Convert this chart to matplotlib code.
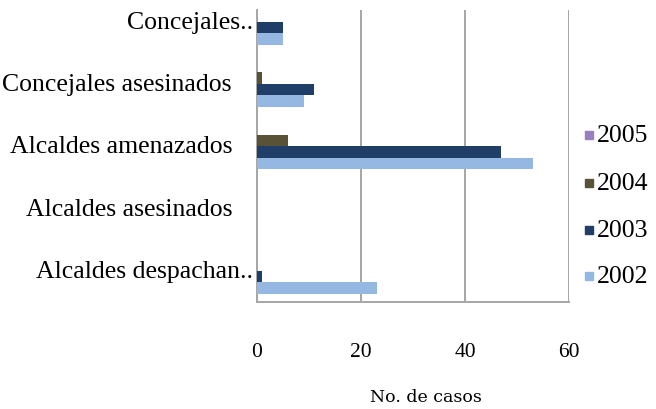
import matplotlib
matplotlib.use("Agg")
import matplotlib.pyplot as plt
from matplotlib.patches import Rectangle
import numpy as np

# Categories listed bottom to top
categories = ["Alcaldes despachan..", "Alcaldes asesinados", "Alcaldes amenazados",
              "Concejales asesinados", "Concejales.."]
years = ["2005", "2004", "2003", "2002"]
v2005 = [0, 0, 0, 0, 0]
v2004 = [0, 0, 6, 1, 0]
v2003 = [1, 0, 47, 11, 5]
v2002 = [23, 0, 53, 9, 5]
series = [v2005, v2004, v2003, v2002]
colors = ["#9A7FC0", "#5A5236", "#1F3F69", "#95B8E3"]
xticks = [0, 20, 40, 60]

W, H = 656, 410
fig = plt.figure(figsize=(W / 100, H / 100), dpi=100)
ax = fig.add_axes([257 / W, 1 - 303 / H, (569 - 257) / W, (303 - 11) / H])

serif = "Liberation Serif"
y = np.arange(len(categories))
h = 0.185
offsets = [1.5 * h, 0.5 * h, -0.5 * h, -1.5 * h]
for vals, col, off in zip(series, colors, offsets):
    ax.barh(y + off, vals, height=h, color=col, linewidth=0, zorder=3)

ax.set_xlim(0, 60)
ax.set_ylim(-0.5, -0.5 + (303 - 11) / 62.3)
ax.set_xticks(xticks)
ax.set_xticklabels([str(t) for t in xticks], fontfamily=serif, fontsize=15.5)
ax.tick_params(axis="x", length=0, pad=29)
ax.set_yticks([])
ax.grid(axis="x", color="#a6a6a6", linewidth=1.4, zorder=0)
for s in ["top", "right"]:
    ax.spines[s].set_visible(False)
for s in ["left", "bottom"]:
    ax.spines[s].set_color("#a6a6a6")
    ax.spines[s].set_linewidth(1.4)

# Category labels, right-aligned beside the axis
label_right = [253, 233, 232, 232, 253]
for yi, lab, xr in zip(y, categories, label_right):
    ax.text((xr - 257) / (569 - 257), yi, lab, transform=ax.get_yaxis_transform(),
            ha="right", va="center", fontfamily=serif, fontsize=18.5)

# Legend drawn as colored squares with year labels
leg_y = [136, 184, 231, 277]
for yr, col, ly in zip(years, colors, leg_y):
    fig.patches.append(Rectangle((585 / W, 1 - (ly + 4) / H), 8 / W, 8 / H,
                                 transform=fig.transFigure, color=col))
    fig.text(597 / W, 1 - ly / H, yr, ha="left", va="center",
             fontfamily=serif, fontsize=18.5)

fig.text(426 / W, 1 - 398 / H, "No. de casos", ha="center", va="center",
         fontfamily="DejaVu Serif", fontsize=12.5)

fig.savefig("out.png", dpi=100)
